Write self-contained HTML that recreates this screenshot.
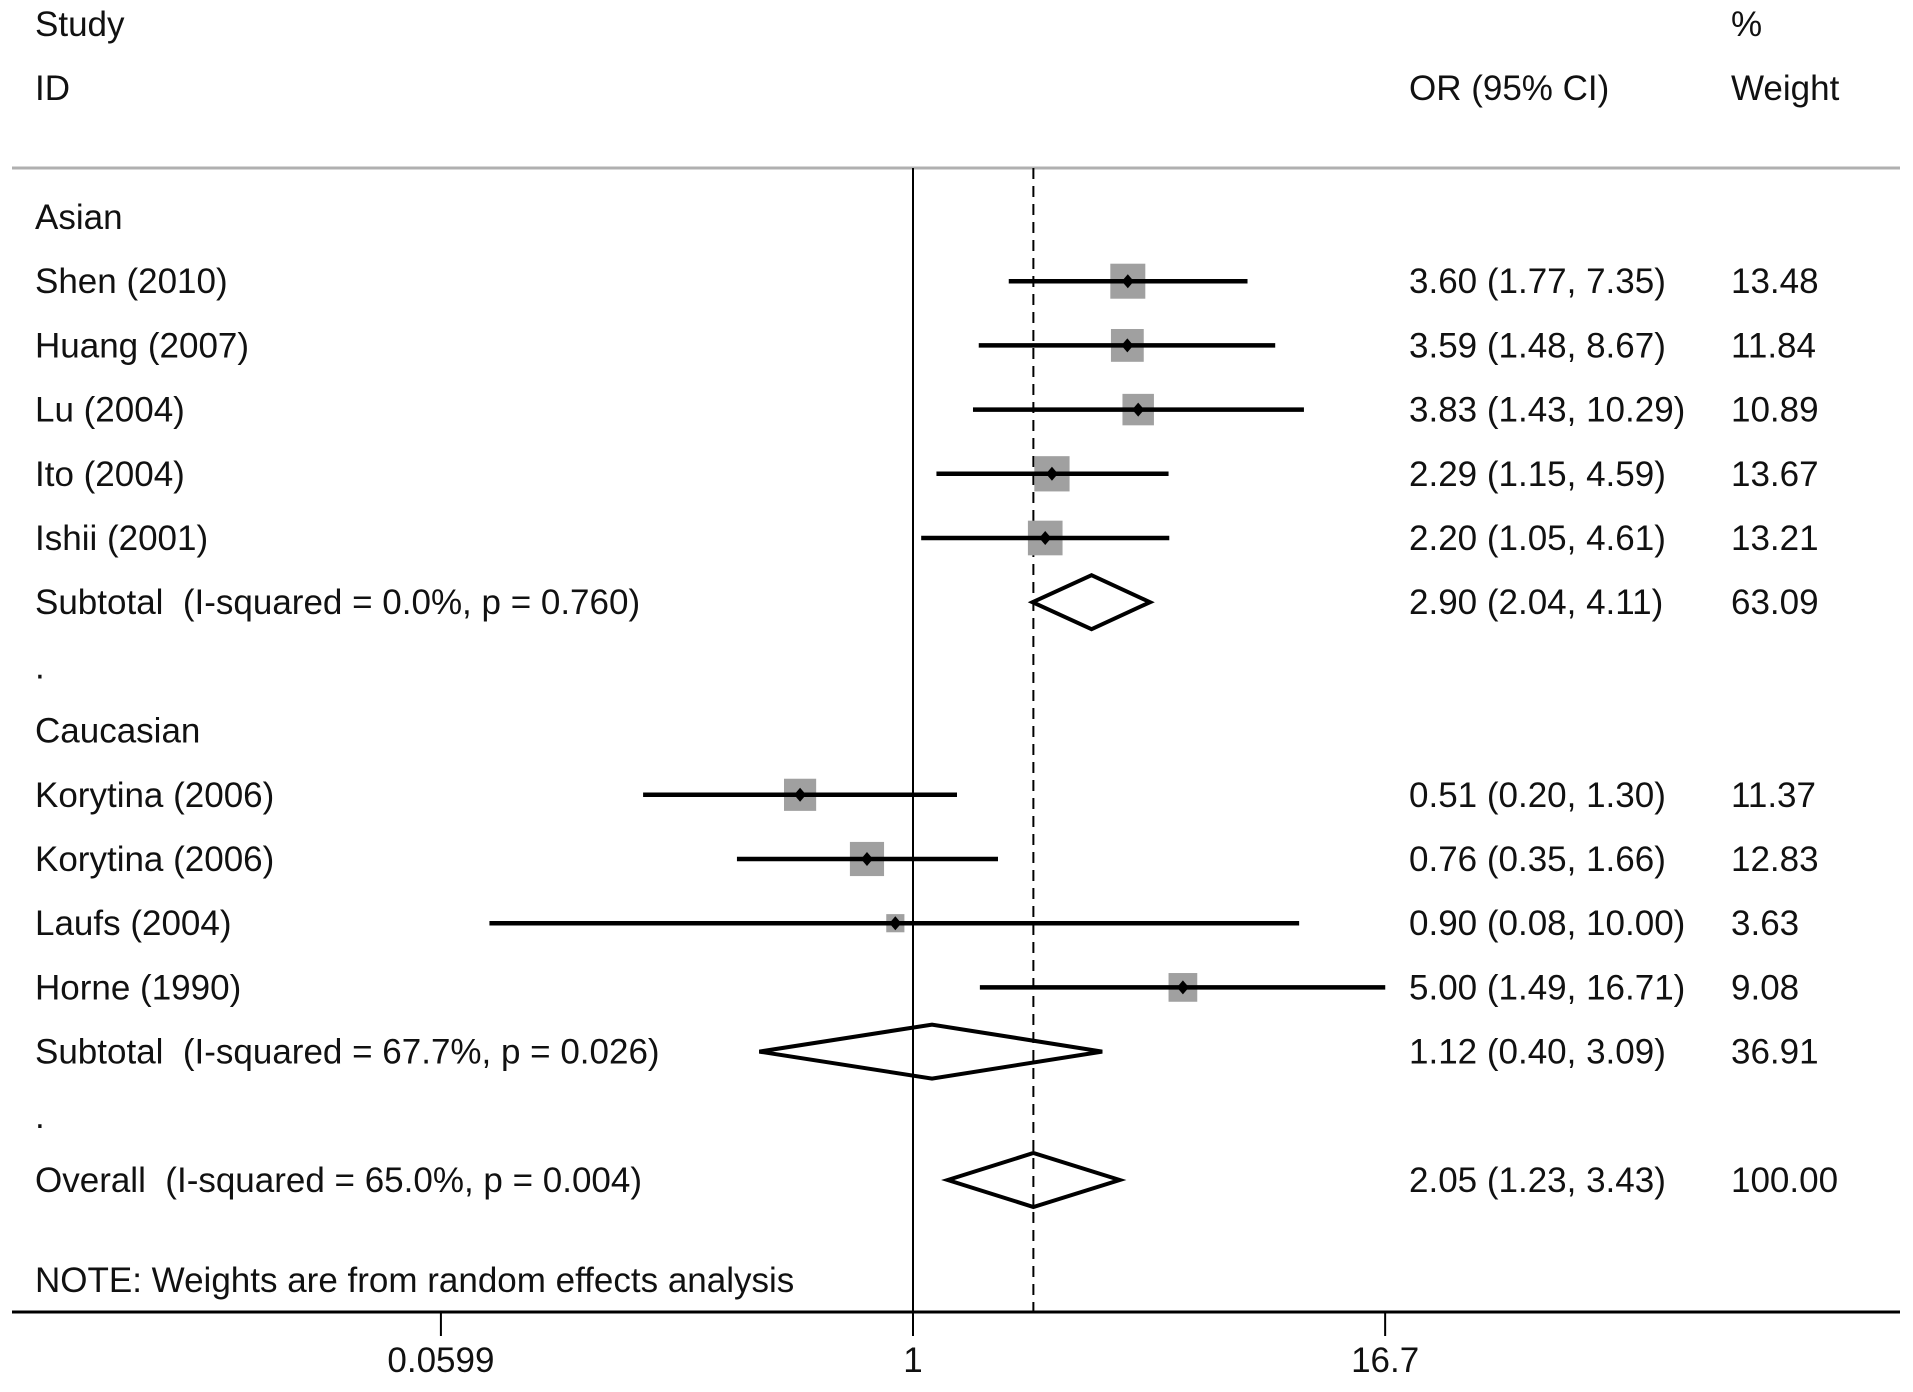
<!DOCTYPE html>
<html><head><meta charset="utf-8"><style>
html,body{margin:0;padding:0;background:#fff;}
svg text{font-family:"Liberation Sans",sans-serif;font-size:35px;fill:#111;white-space:pre;}
</style></head><body>
<svg id="chart" width="1913" height="1387" viewBox="0 0 1913 1387" xmlns="http://www.w3.org/2000/svg" xml:space="preserve">
<text x="35" y="36">Study</text>
<text x="35" y="100">ID</text>
<text x="1731" y="36">%</text>
<text x="1409" y="100">OR (95% CI)</text>
<text x="1731" y="100">Weight</text>
<line x1="12" y1="168" x2="1900" y2="168" stroke="#b0b0b0" stroke-width="3"/>
<g id="marks"></g>
<text x="35" y="1292">NOTE: Weights are from random effects analysis</text>
<line x1="12" y1="1312" x2="1900" y2="1312" stroke="#000" stroke-width="3"/>
<g id="ticks"></g>
</svg>
<script>
const labels = ["Asian","Shen (2010)","Huang (2007)","Lu (2004)","Ito (2004)","Ishii (2001)","Subtotal  (I-squared = 0.0%, p = 0.760)",".","Caucasian","Korytina (2006)","Korytina (2006)","Laufs (2004)","Horne (1990)","Subtotal  (I-squared = 67.7%, p = 0.026)",".","Overall  (I-squared = 65.0%, p = 0.004)"];
const rowTypes = ["head","study","study","study","study","study","sub","blank","head","study","study","study","study","sub","blank","sub"];
const orVals = [null,3.60,3.59,3.83,2.29,2.20,2.90,null,null,0.51,0.76,0.90,5.00,1.12,null,2.05];
const ciLow  = [null,1.77,1.48,1.43,1.15,1.05,2.04,null,null,0.20,0.35,0.08,1.49,0.40,null,1.23];
const ciHigh = [null,7.35,8.67,10.29,4.59,4.61,4.11,null,null,1.30,1.66,10.00,16.71,3.09,null,3.43];
const weights = [null,13.48,11.84,10.89,13.67,13.21,63.09,null,null,11.37,12.83,3.63,9.08,36.91,null,100.00];
const ciText = ["","3.60 (1.77, 7.35)","3.59 (1.48, 8.67)","3.83 (1.43, 10.29)","2.29 (1.15, 4.59)","2.20 (1.05, 4.61)","2.90 (2.04, 4.11)","","","0.51 (0.20, 1.30)","0.76 (0.35, 1.66)","0.90 (0.08, 10.00)","5.00 (1.49, 16.71)","1.12 (0.40, 3.09)","","2.05 (1.23, 3.43)"];
const tickVals = [0.0599, 1, 16.7];
const tickLabels = ["0.0599","1","16.7"];
const overallOR = 2.05;

const NS="http://www.w3.org/2000/svg";
const X0=913, PX=167.7;
function xs(v){return X0+PX*Math.log(v);}
function ys(i){return 217+64.2*i;}
function mk(t,a,p){const e=document.createElementNS(NS,t);for(const k in a)e.setAttribute(k,a[k]);p.appendChild(e);return e;}
const g=document.getElementById('marks');
const topY=168, botY=1312;
const nl=mk('line',{x1:X0,y1:topY,x2:X0,y2:botY,stroke:'#000','stroke-width':2},g);


const ol=mk('line',{x1:xs(overallOR),y1:topY,x2:xs(overallOR),y2:botY,stroke:'#000','stroke-width':2,'stroke-dasharray':'11 7'},g);


labels.forEach((lab,i)=>{
  const y=ys(i);
  const t=mk('text',{x:35,y:y+12},g);t.textContent=lab;
  
  
  if(rowTypes[i]==='study'||rowTypes[i]==='sub'){
    const c=mk('text',{x:1409,y:y+12},g);c.textContent=ciText[i];
    
    
    const w=mk('text',{x:1731,y:y+12},g);w.textContent=weights[i].toFixed(2);
    
    
  }
  if(rowTypes[i]==='study'){
    const s=35*Math.sqrt(weights[i]/13.48);
    const b=mk('rect',{x:xs(orVals[i])-s/2,y:y-s/2,width:s,height:s,fill:'#a0a0a0'},g);
    
    
    const l=mk('line',{x1:xs(ciLow[i]),y1:y,x2:xs(ciHigh[i]),y2:y,stroke:'#000','stroke-width':4.5},g);
    
    
    const cx=xs(orVals[i]);
    const d=mk('polygon',{points:`${cx-6},${y} ${cx},${y-7} ${cx+6},${y} ${cx},${y+7}`,fill:'#000'},g);
    
    
  } else if(rowTypes[i]==='sub'){
    const cx=xs(orVals[i]);
    const p=mk('polygon',{points:`${xs(ciLow[i])},${y} ${cx},${y-27} ${xs(ciHigh[i])},${y} ${cx},${y+27}`,fill:'none',stroke:'#000','stroke-width':4},g);
    
    
  }
});
const tk=document.getElementById('ticks');
tickVals.forEach((v,i)=>{
  const l=mk('line',{x1:xs(v),y1:1312,x2:xs(v),y2:1336,stroke:'#000','stroke-width':2},tk);
  
  
  const t=mk('text',{x:xs(v),y:1372,'text-anchor':'middle'},tk);t.textContent=tickLabels[i];
  
  
});
</script>
</body></html>
